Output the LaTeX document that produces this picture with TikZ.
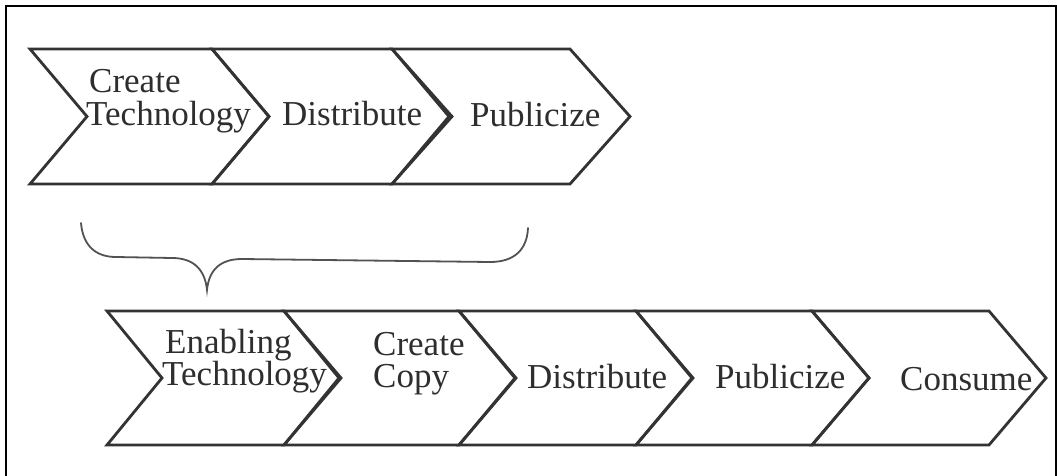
\documentclass[tikz,border=0pt]{standalone}
\usepackage{fontspec}
\setmainfont{Liberation Serif}
\definecolor{ink}{HTML}{333333}
\definecolor{txt}{HTML}{2e2e2e}
\newcommand\mychevron[5]{% left x, right x, top y, bottom y, depth
  \draw[chevline] (#1,#3) -- (#2,#3) -- ({#2+#5},{(#3+#4)/2}) -- (#2,#4) -- (#1,#4) -- ({#1+#5},{(#3+#4)/2}) -- cycle;}
\begin{document}
\begin{tikzpicture}[x=1pt,y=-1pt,
  chevline/.style={draw=ink,line width=2.8pt,line join=miter},
  lbl/.style={inner sep=0pt,anchor=base west,text=txt,font=\fontsize{35}{37}\selectfont},
  bracestyle/.style={draw=ink!85,line width=1.8pt,line cap=round}]
\useasboundingbox (0,0) rectangle (1057,476);
\fill[white] (0,0) rectangle (1057,476);
% frame
\draw[black,line width=2pt] (6,480) -- (6,6) -- (1055.5,6) -- (1055.5,480);
% top row
\mychevron{30}{212}{49}{184}{57}
\mychevron{212}{392}{49}{184}{57}
\mychevron{392}{570}{49}{184}{60}
\node[lbl] (t1a) at (89,93) {Create};
\node[lbl] (t1b) at (86,125) {Technology};
\node[lbl] (t2) at (282,125) {Distribute};
\node[lbl] (t3) at (470,127) {Publicize};
% brace
\draw[bracestyle] (81,223) .. controls (83,246) and (96,257) .. (116,257) -- (172,258)
  .. controls (194,258) and (205,270) .. (207,290)
  .. controls (209,270) and (220,259) .. (242,259) -- (490,262)
  .. controls (514,262) and (527,250) .. (528,228);
% bottom row
\mychevron{107}{284}{311}{445}{55}
\mychevron{284}{459}{311}{445}{57}
\mychevron{459}{636}{311}{445}{56}
\mychevron{636}{812}{311}{445}{57}
\mychevron{812}{989}{311}{445}{57}
\node[lbl] (b1a) at (165,353) {Enabling};
\node[lbl] (b1b) at (162,385) {Technology};
\node[lbl] (b2a) at (373,355) {Create};
\node[lbl] (b2b) at (373,387) {Copy};
\node[lbl] (b3) at (527,388) {Distribute};
\node[lbl] (b4) at (715,388) {Publicize};
\node[lbl] (b5) at (900,390) {Consume};
\end{tikzpicture}
\end{document}
